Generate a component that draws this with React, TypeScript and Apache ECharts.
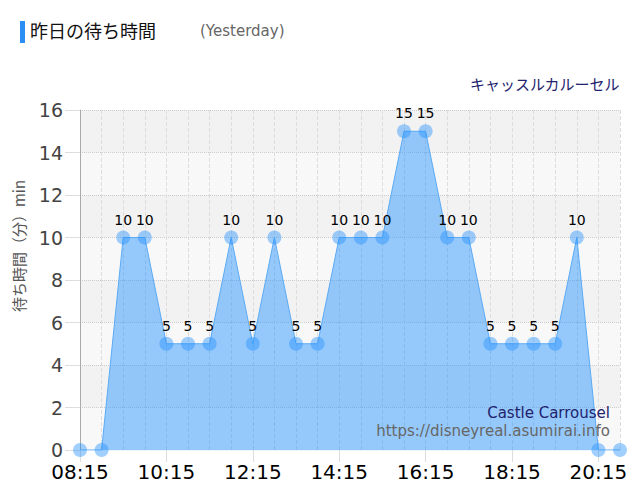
import React, { useEffect, useRef } from "react";
import * as echarts from "echarts";

const times = [
  "08:15", "08:45", "09:15", "09:45", "10:15", "10:45", "11:15", "11:45",
  "12:15", "12:45", "13:15", "13:45", "14:15", "14:45", "15:15", "15:45",
  "16:15", "16:45", "17:15", "17:45", "18:15", "18:45", "19:15", "19:45",
  "20:15", "20:45",
];
const waits = [
  0, 0, 10, 10, 5, 5, 5, 10, 5, 10, 5, 5, 10, 10, 10, 15, 15, 10, 10, 5, 5, 5, 5, 10, 0, 0,
];

const titleText = "昨日の待ち時間";
const titleSub = "(Yesterday)";
const attractionJa = "キャッスルカルーセル";
const attractionEn = "Castle Carrousel";
const siteUrl = "https://disneyreal.asumirai.info";
const yName = "待ち時間（分）min";

const JP = '"Noto Sans CJK JP", "DejaVu Sans", sans-serif';
const NUM = '"DejaVu Sans", sans-serif';

export default function App() {
  const ref = useRef<HTMLDivElement>(null);
  useEffect(() => {
    if (!ref.current) return;
    const chart = echarts.init(ref.current, undefined, { renderer: "svg" });
    chart.setOption({
      animation: false,
      backgroundColor: "#fff",
      grid: { left: 80, right: 20, top: 110, bottom: 50, containLabel: false },
      graphic: [
        { type: "rect", left: 20, top: 21, z: 100, shape: { width: 5, height: 22 }, style: { fill: "#2a8ef5" } },
        {
          type: "text", left: 30, top: 21, z: 100,
          style: { text: titleText, fontSize: 18, fill: "#111", fontFamily: JP },
        },
        {
          type: "text", left: 200, top: 23, z: 100,
          style: { text: titleSub, fontSize: 15, fill: "#666", fontFamily: NUM },
        },
        {
          type: "text", right: 20, top: 76, z: 100,
          style: { text: attractionJa, fontSize: 15, fill: "#22226e", fontFamily: JP },
        },
        {
          type: "text", x: 18, y: 246, rotation: Math.PI / 2, z: 100,
          style: {
            text: yName, fontSize: 15, fill: "#555", fontFamily: JP,
            align: "center", verticalAlign: "middle",
          },
        },
        {
          type: "text", x: 610, y: 413, z: 100,
          style: {
            text: attractionEn, fontSize: 15, fill: "#22226e", fontFamily: NUM,
            align: "right", verticalAlign: "middle",
          },
        },
        {
          type: "text", x: 610, y: 431, z: 100,
          style: {
            text: siteUrl, fontSize: 15, fill: "#666", fontFamily: NUM,
            align: "right", verticalAlign: "middle",
          },
        },
      ],
      xAxis: {
        type: "category",
        data: times,
        boundaryGap: false,
        axisLine: { show: true, lineStyle: { color: "#eef4fb", width: 1 } },
        axisTick: { show: true, interval: 3, length: 12, lineStyle: { color: "#ddd" } },
        axisLabel: { interval: 3, fontSize: 20, color: "#000", fontFamily: NUM, margin: 12 },
        splitLine: { show: true, interval: 0, lineStyle: { color: "#ddd", type: "dashed" } },
      },
      yAxis: {
        type: "value",
        min: 0,
        max: 16,
        interval: 2,
        axisLine: { show: true, lineStyle: { color: "#aaa" } },
        axisTick: { show: true, length: 15, lineStyle: { color: "#ddd" } },
        axisLabel: { fontSize: 19, color: "#444", fontFamily: NUM, margin: 17 },
        splitLine: { show: true, lineStyle: { color: "#ccc", type: "dotted" } },
        splitArea: { show: true, areaStyle: { color: ["#f8f8f8", "#f2f2f2"] } },
      },
      series: [
        {
          type: "line",
          data: waits,
          symbol: "circle",
          symbolSize: 14,
          showAllSymbol: true,
          itemStyle: { color: "rgba(30,144,255,0.42)" },
          lineStyle: { color: "#5aaaf5", width: 1 },
          areaStyle: { color: "rgba(30,144,255,0.45)", opacity: 1 },
          labelLayout: { hideOverlap: false },
          label: {
            show: true,
            position: "top",
            distance: 4,
            fontSize: 14,
            color: "#000",
            fontFamily: NUM,
            formatter: (p: any) => (p.value > 0 ? String(p.value) : ""),
          },
        },
      ],
    });
    return () => chart.dispose();
  }, []);
  return (
    <div
      ref={ref}
      style={{ position: "fixed", left: 0, top: 0, width: 640, height: 500 }}
    />
  );
}
